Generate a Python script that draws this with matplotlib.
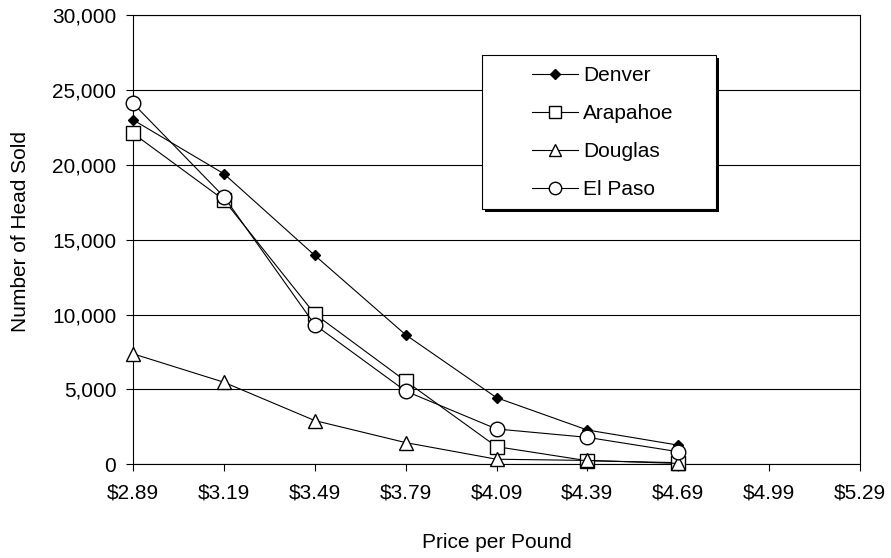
import matplotlib
matplotlib.use('Agg')
import matplotlib.pyplot as plt
from matplotlib.patches import Rectangle
from matplotlib.ticker import FuncFormatter

plt.rcParams['font.family'] = ['Liberation Sans', 'DejaVu Sans']

# Données
prices = [2.89, 3.19, 3.49, 3.79, 4.09, 4.39, 4.69]
tick_prices = [2.89, 3.19, 3.49, 3.79, 4.09, 4.39, 4.69, 4.99, 5.29]
denver = [23000, 19400, 13950, 8650, 4450, 2290, 1280]
arapahoe = [22100, 17650, 10040, 5560, 1180, 240, 110]
douglas = [7380, 5480, 2920, 1450, 340, 260, 60]
el_paso = [24100, 17870, 9320, 4890, 2360, 1800, 840]

fig = plt.figure(figsize=(8.91, 5.58), dpi=100)
ax = fig.add_axes([0.1493, 0.1679, 0.8159, 0.8052])

lw = 0.8
ax.plot(prices, denver, color='black', lw=lw, marker='D', ms=5.5,
        mfc='black', mec='black', label='Denver', zorder=5, clip_on=False)
ax.plot(prices, arapahoe, color='black', lw=lw, marker='s', ms=10,
        mfc='white', mec='black', mew=1.0, label='Arapahoe', zorder=4, clip_on=False)
ax.plot(prices, douglas, color='black', lw=lw, marker='^', ms=10,
        mfc='white', mec='black', mew=1.0, label='Douglas', zorder=4, clip_on=False)
ax.plot(prices, el_paso, color='black', lw=lw, marker='o', ms=10.5,
        mfc='white', mec='black', mew=1.0, label='El Paso', zorder=6, clip_on=False)

ax.set_xlim(tick_prices[0], tick_prices[-1])
ax.set_ylim(0, 30000)
ax.set_xticks(tick_prices)
ax.set_xticklabels([f"${p:.2f}" for p in tick_prices])
ax.set_yticks(range(0, 30001, 5000))
ax.yaxis.set_major_formatter(FuncFormatter(lambda v, pos: f"{int(v):,}"))

ax.yaxis.grid(True, color='black', lw=0.8)
ax.set_axisbelow(True)
for s in ax.spines.values():
    s.set_color('black')
    s.set_linewidth(0.8)

ax.tick_params(axis='both', direction='out', length=5, width=0.8,
               colors='black', labelsize=15)
ax.tick_params(axis='y', pad=7)
ax.tick_params(axis='x', pad=9)

ax.set_xlabel("Price per Pound", fontsize=15, labelpad=22)
ax.set_ylabel("Number of Head Sold", fontsize=15)
ax.yaxis.set_label_coords(-0.142, 0.519)

# Cadre de légende avec ombre
fig.patches.append(Rectangle((485 / 891, 1 - 212 / 558), 234 / 891, 154 / 558,
                             transform=fig.transFigure, facecolor='black',
                             edgecolor='none', zorder=9))
fig.patches.append(Rectangle((482 / 891, 1 - 209 / 558), 234 / 891, 154 / 558,
                             transform=fig.transFigure, facecolor='white',
                             edgecolor='black', lw=0.8, zorder=10))

handles, labels = ax.get_legend_handles_labels()
leg = fig.legend(handles, labels, loc='upper left',
                 bbox_to_anchor=(532 / 891, 1 - 66 / 558),
                 fontsize=15, frameon=False, markerscale=0.85,
                 handlelength=2.2, handletextpad=0.25, labelspacing=0.91,
                 borderpad=0, borderaxespad=0)
leg.set_zorder(11)

fig.savefig('out.png', dpi=100)
